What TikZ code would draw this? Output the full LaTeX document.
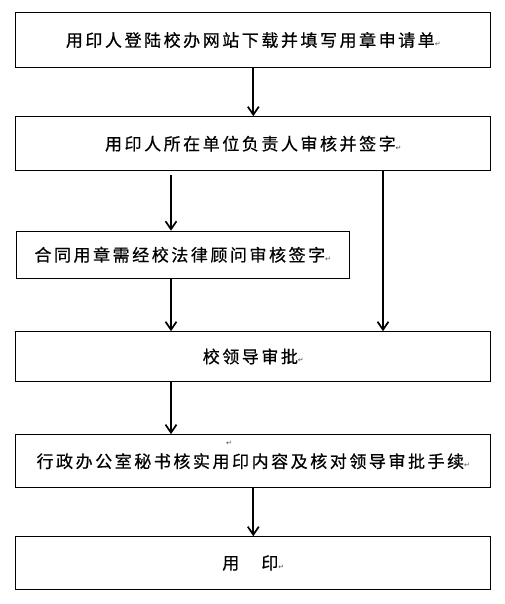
\documentclass[tikz,border=0pt]{standalone}
\usepackage{fontspec}
\newfontfamily\cjk[LetterSpace=15,FakeBold=0.6]{Noto Sans CJK SC}
\newfontfamily\markfont{DejaVu Sans}
\usetikzlibrary{arrows.meta}
\newcommand\pmark{{\markfont\fontsize{7}{7}\selectfont\textcolor{black!70}{↵}}}
\begin{document}
\begin{tikzpicture}[x=1pt,y=-1pt,
  box/.style={draw=black,line width=1.1pt,rectangle,inner sep=0pt,
    font=\cjk\fontsize{17}{17}\selectfont},
  arr/.style={line width=1.9pt,-{Straight Barb[length=8pt,width=11pt,line width=1.7pt]}},
  plain/.style={line width=1.9pt}]
\useasboundingbox (0,0) rectangle (504,604);
\node[box,minimum width=475pt,minimum height=55pt] (b1) at (253.3,40) {用印人登陆校办网站下载并填写用章申请单\pmark};
\node[box,minimum width=475pt,minimum height=54pt] (b2) at (253.3,143.7) {用印人所在单位负责人审核并签字\pmark};
\node[box,minimum width=333pt,minimum height=47pt,anchor=north west] (b3) at (15.7,230.7) {\raisebox{-2pt}{合同用章需经校法律顾问审核签字\pmark}};
\node[box,minimum width=475pt,minimum height=49.5pt] (b4) at (253.3,356.5) {\raisebox{-2pt}{校领导审批\pmark}};
\node[box,minimum width=475pt,minimum height=53pt] (b5) at (253.3,461.2) {行政办公室秘书核实用印内容及核对领导审批手续\pmark};
\node[box,minimum width=475pt,minimum height=52.5pt] (b6) at (253.3,563) {用　印\pmark};
\node[inner sep=0pt] (m5) at (229,443) {\pmark};
\coordinate (lx) at (171,0);
\coordinate (rx) at (383,0);
\draw[arr] (b1.south) -- (b2.north);
\draw[arr,shorten <=4pt] (b2.south -| lx) -- (b3.north -| lx);
\draw[arr] (b2.south -| rx) -- (b4.north -| rx);
\draw[arr] (b3.south -| lx) -- (b4.north -| lx);
\draw[arr] (b4.south -| lx) -- (b5.north -| lx);
\draw[arr] (b5.south) -- (b6.north);
\end{tikzpicture}
\end{document}
